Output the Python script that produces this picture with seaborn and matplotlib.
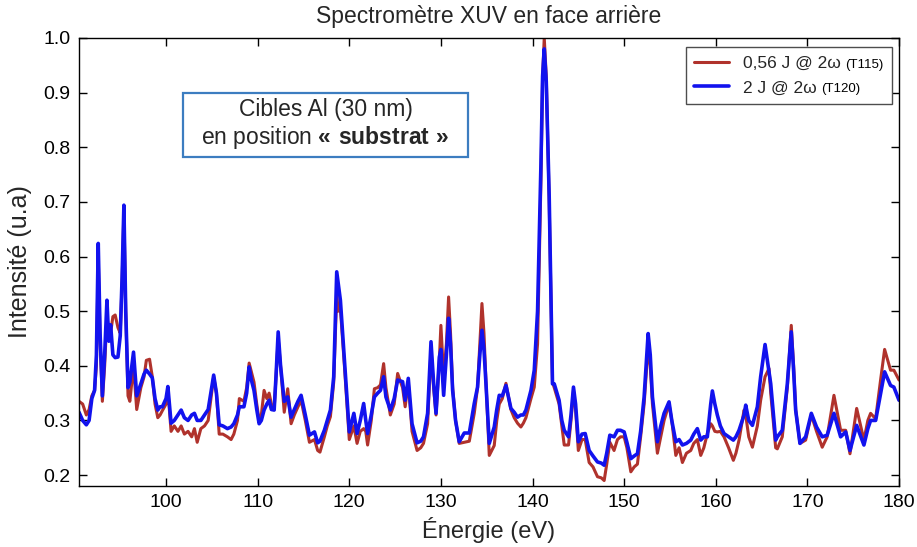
import matplotlib
matplotlib.use("Agg")
import matplotlib.pyplot as plt
from matplotlib.patches import Rectangle
from matplotlib.offsetbox import TextArea, HPacker
import seaborn as sns
import pandas as pd

# ---- data ----
energy = [
    90.5, 90.9, 91.3, 91.6, 91.9, 92.2, 92.4, 92.6, 92.8, 93.05,
    93.3, 93.55, 93.75, 93.95, 94.2, 94.45, 94.75, 95.0, 95.2, 95.4,
    95.6, 95.85, 96.05, 96.45, 96.8, 97.25, 97.6, 97.85, 98.2, 98.5,
    98.8, 99.1, 99.35, 99.6, 100.0, 100.2, 100.55, 100.9, 101.3, 101.65,
    102.0, 102.4, 102.8, 103.1, 103.4, 103.8, 104.2, 104.6, 105.2, 105.5,
    105.8, 106.2, 106.7, 107.1, 107.4, 107.8, 108.0, 108.5, 108.8, 109.07,
    109.3, 109.6, 109.9, 110.16, 110.4, 110.7, 111.0, 111.25, 111.5, 111.8,
    112.0, 112.24, 112.5, 112.9,
    113.28, 113.65, 114.0, 114.4, 114.74, 115.2, 115.65, 116.2, 116.55, 116.8,
    117.28, 117.6, 117.94, 118.3, 118.63, 118.8, 119.03, 119.47, 119.75, 120.0,
    120.5, 120.85, 121.2, 121.57, 121.8, 122.0, 122.4, 122.74, 123.1, 123.4,
    123.75, 124.0, 124.48, 124.9, 125.28, 125.6, 125.82, 126.1, 126.44, 126.85,
    127.4, 127.8, 128.1, 128.55, 128.92, 129.2, 129.47, 129.83, 130.0, 130.3,
    130.6, 130.84, 131.05, 131.28, 131.6, 132.0, 132.55, 133.1, 133.64, 134.0,
    134.25, 134.48, 134.7, 134.92, 135.28,
    135.82, 136.1, 136.37, 136.7, 137.1, 137.64, 138.0, 138.36, 138.73, 139.0,
    139.28, 139.83, 140.19, 140.55, 140.92, 141.1, 141.28, 141.5, 141.82, 142.18,
    142.37, 142.9, 143.2, 143.46, 143.93, 144.2, 144.47, 144.7, 145.0, 145.4,
    145.75, 146.18, 146.6, 147.09, 147.5, 147.82, 148.1, 148.44, 148.9, 149.27,
    149.6, 150.0, 150.3, 150.73, 151.1, 151.45, 151.8, 152.18, 152.62, 152.85,
    153.09, 153.63, 154.0, 154.36, 154.9, 155.2, 155.64, 156.0, 156.36, 156.8,
    157.27, 157.6, 157.99,
    158.36, 158.7, 159.08, 159.45, 159.63, 159.9, 160.17, 160.5, 160.9, 161.4,
    161.92, 162.2, 162.54, 163.09, 163.27, 163.6, 164.0, 164.54, 164.9, 165.38,
    165.81, 166.0, 166.54, 166.72, 167.26, 167.81, 168.24, 168.5, 168.72, 169.19,
    169.81, 170.43, 171.0, 171.62, 172.16, 172.9, 173.63, 174.18, 174.65, 175.38,
    176.17, 176.6, 176.9, 177.45, 177.99, 178.43, 179.08, 179.44, 180.0,
]

t115 = [  # 0,56 J @ 2w (T115)
    0.335, 0.330, 0.310, 0.320, 0.345, 0.355, 0.400, 0.600, 0.450, 0.335,
    0.40, 0.49, 0.465, 0.46, 0.49, 0.493, 0.47, 0.46, 0.55, 0.685,
    0.50, 0.345, 0.335, 0.40, 0.32, 0.36, 0.38, 0.41, 0.412, 0.38,
    0.33, 0.305, 0.31, 0.318, 0.33, 0.355, 0.28, 0.29, 0.28, 0.29,
    0.275, 0.28, 0.27, 0.285, 0.26, 0.285, 0.29, 0.30, 0.38, 0.35,
    0.275, 0.275, 0.27, 0.265, 0.275, 0.30, 0.34, 0.335, 0.36, 0.405,
    0.39, 0.37, 0.33, 0.30, 0.31, 0.355, 0.34, 0.35, 0.33, 0.32,
    0.38, 0.45, 0.40, 0.315,
    0.358, 0.294, 0.31, 0.325, 0.337, 0.30, 0.26, 0.265, 0.245, 0.242,
    0.27, 0.29, 0.307, 0.37, 0.53, 0.50, 0.505, 0.40, 0.33, 0.265,
    0.29, 0.258, 0.28, 0.285, 0.28, 0.255, 0.30, 0.358, 0.36, 0.365,
    0.404, 0.36, 0.31, 0.33, 0.386, 0.37, 0.36, 0.325, 0.37, 0.28,
    0.245, 0.25, 0.258, 0.294, 0.43, 0.36, 0.31, 0.41, 0.474, 0.38,
    0.44, 0.526, 0.46, 0.36, 0.30, 0.258, 0.26, 0.262, 0.313, 0.36,
    0.44, 0.514, 0.46, 0.37, 0.236,
    0.254, 0.30, 0.33, 0.34, 0.368, 0.32, 0.305, 0.295, 0.288, 0.295,
    0.305, 0.34, 0.361, 0.44, 0.74, 0.93, 1.0, 0.93, 0.70, 0.37,
    0.36, 0.33, 0.29, 0.255, 0.255, 0.30, 0.355, 0.32, 0.245, 0.265,
    0.265, 0.223, 0.215, 0.197, 0.195, 0.19, 0.22, 0.26, 0.245, 0.265,
    0.27, 0.27, 0.25, 0.206, 0.215, 0.22, 0.27, 0.33, 0.435, 0.40,
    0.33, 0.24, 0.27, 0.30, 0.33, 0.30, 0.236, 0.25, 0.223, 0.24,
    0.245, 0.258, 0.265,
    0.236, 0.25, 0.276, 0.294, 0.29, 0.28, 0.279, 0.28, 0.27, 0.25,
    0.227, 0.24, 0.264, 0.319, 0.31, 0.27, 0.251, 0.29, 0.337, 0.38,
    0.395, 0.35, 0.25, 0.248, 0.27, 0.36, 0.474, 0.40, 0.32, 0.258,
    0.264, 0.31, 0.28, 0.251, 0.27, 0.346, 0.282, 0.282, 0.239, 0.322,
    0.264, 0.30, 0.313, 0.303, 0.374, 0.43, 0.392, 0.392, 0.374,
]

t120 = [  # 2 J @ 2w (T120)
    0.315, 0.300, 0.292, 0.300, 0.340, 0.355, 0.420, 0.624, 0.460, 0.345,
    0.42, 0.52, 0.445, 0.475, 0.42, 0.415, 0.416, 0.455, 0.56, 0.694,
    0.50, 0.36, 0.37, 0.425, 0.345, 0.367, 0.385, 0.392, 0.385, 0.378,
    0.34, 0.319, 0.325, 0.325, 0.34, 0.362, 0.295, 0.30, 0.31, 0.319,
    0.305, 0.30, 0.31, 0.313, 0.30, 0.30, 0.31, 0.32, 0.383, 0.35,
    0.292, 0.29, 0.285, 0.288, 0.294, 0.31, 0.325, 0.325, 0.35, 0.398,
    0.375, 0.355, 0.32, 0.294, 0.30, 0.319, 0.33, 0.337, 0.32, 0.319,
    0.38, 0.462, 0.40, 0.335,
    0.343, 0.306, 0.32, 0.335, 0.346, 0.31, 0.273, 0.279, 0.259, 0.262,
    0.282, 0.30, 0.319, 0.38, 0.572, 0.55, 0.52, 0.41, 0.34, 0.279,
    0.313, 0.276, 0.30, 0.331, 0.30, 0.276, 0.31, 0.343, 0.35, 0.355,
    0.38, 0.343, 0.319, 0.34, 0.374, 0.372, 0.371, 0.337, 0.377, 0.294,
    0.259, 0.262, 0.27, 0.313, 0.444, 0.37, 0.313, 0.416, 0.43, 0.346,
    0.42, 0.487, 0.44, 0.355, 0.30, 0.261, 0.277, 0.277, 0.331, 0.361,
    0.42, 0.465, 0.43, 0.367, 0.258,
    0.288, 0.32, 0.346, 0.345, 0.364, 0.322, 0.315, 0.306, 0.31, 0.31,
    0.319, 0.355, 0.392, 0.50, 0.77, 0.93, 0.98, 0.92, 0.71, 0.367,
    0.367, 0.337, 0.30, 0.282, 0.27, 0.31, 0.361, 0.33, 0.261, 0.275,
    0.276, 0.245, 0.235, 0.224, 0.222, 0.218, 0.24, 0.273, 0.27, 0.282,
    0.282, 0.279, 0.26, 0.23, 0.235, 0.239, 0.28, 0.343, 0.459, 0.42,
    0.343, 0.261, 0.29, 0.313, 0.334, 0.30, 0.261, 0.265, 0.255, 0.258,
    0.264, 0.275, 0.285,
    0.264, 0.27, 0.27, 0.33, 0.354, 0.33, 0.31, 0.29, 0.276, 0.27,
    0.264, 0.27, 0.282, 0.31, 0.328, 0.30, 0.291, 0.325, 0.38, 0.439,
    0.39, 0.367, 0.264, 0.27, 0.282, 0.367, 0.462, 0.39, 0.319, 0.258,
    0.27, 0.313, 0.288, 0.27, 0.273, 0.313, 0.27, 0.279, 0.245, 0.291,
    0.255, 0.285, 0.30, 0.30, 0.349, 0.389, 0.364, 0.361, 0.337,
]

series_main = ["0,56 J @ 2ω", "2 J @ 2ω"]
series_tag = ["(T115)", "(T120)"]
x_ticks = [100, 110, 120, 130, 140, 150, 160, 170, 180]
y_ticks = [0.2, 0.3, 0.4, 0.5, 0.6, 0.7, 0.8, 0.9, 1.0]

title = "Spectromètre XUV en face arrière"
x_label = "Énergie (eV)"
y_label = "Intensité (u.a)"
box_line1 = "Cibles Al (30 nm)"
box_line2 = "en position $\\mathbf{«\\ substrat\\ »}$"

# ---- style ----
sns.set_theme(style="ticks")
plt.rcParams["font.family"] = ["Liberation Sans", "DejaVu Sans"]
plt.rcParams["mathtext.fontset"] = "custom"
plt.rcParams["mathtext.rm"] = "Liberation Sans"
plt.rcParams["mathtext.bf"] = "Liberation Sans:bold"

df_red = pd.DataFrame({"energy": energy, "intensity": t115})
df_blue = pd.DataFrame({"energy": energy, "intensity": t120})

fig = plt.figure(figsize=(9.17, 5.47), dpi=100)
ax = fig.add_axes([79 / 917, 1 - 486 / 547, 820 / 917, 448 / 547])

sns.lineplot(data=df_red, x="energy", y="intensity", ax=ax, color="#B0322C",
             lw=2.2, estimator=None, sort=False)
sns.lineplot(data=df_blue, x="energy", y="intensity", ax=ax, color="#1212EE",
             lw=2.6, estimator=None, sort=False)

ax.set_xlim(90.5, 180)
ax.set_ylim(0.18, 1.0)
ax.set_xticks(x_ticks)
ax.set_xticklabels([str(t) for t in x_ticks])
ax.set_yticks(y_ticks)
ax.set_yticklabels([f"{t:.1f}" for t in y_ticks])
ax.tick_params(direction="in", top=True, right=True, length=6, width=1,
               labelsize=14, colors="black", pad=6)
for s in ax.spines.values():
    s.set_color("black")
    s.set_linewidth(1.0)

ax.set_xlabel(x_label, fontsize=17, labelpad=4)
ax.set_ylabel(y_label, fontsize=18, labelpad=8)
ax.set_title(title, fontsize=16.5, pad=11)

# legend: main label + smaller run tag on the same baseline
lines = ax.get_lines()
leg = ax.legend(lines[:2], series_main,
                loc="upper right", bbox_to_anchor=(0.9915, 0.98),
                borderaxespad=0, fontsize=12.5, frameon=True, fancybox=False,
                edgecolor="0.3", framealpha=1, labelspacing=0.55,
                handlelength=2.0, borderpad=0.5)
leg.get_frame().set_linewidth(1.0)

tags = iter(series_tag)
for col in leg._legend_handle_box.get_children():
    for row in col.get_children():
        kids = row.get_children()
        text_area = kids[1]
        tag_area = TextArea(next(tags), textprops=dict(fontsize=9.5, color="black"))
        packed = HPacker(children=[text_area, tag_area], sep=3, pad=0,
                         align="baseline")
        packed.set_figure(fig)
        kids[1] = packed

# annotation box
ax.add_patch(Rectangle((0.1268, 0.7344), 0.3476, 0.1428, transform=ax.transAxes,
                       facecolor="white", edgecolor="#3C7DC0", lw=1.6, zorder=5))
ax.text(0.3006, 0.806, box_line1 + "\n" + box_line2, transform=ax.transAxes,
        ha="center", va="center", multialignment="center", fontsize=16.5,
        zorder=6, linespacing=1.15)

fig.savefig("out.png", dpi=100)
